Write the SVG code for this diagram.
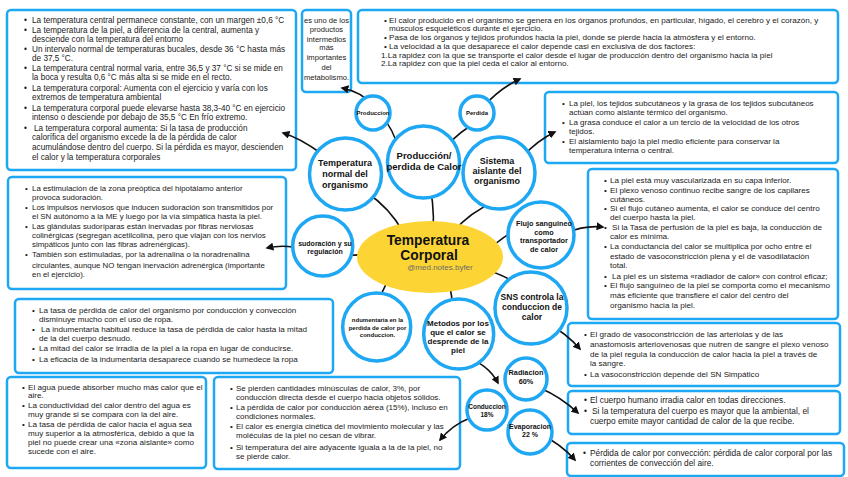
<svg xmlns="http://www.w3.org/2000/svg" width="848" height="477" viewBox="0 0 848 477">
<style>
.bg{fill:#ffffff}
.box{fill:#ffffff;stroke:#1ea7f3;stroke-width:2.5}
.cir{fill:#ffffff;stroke:#1ea7f3;stroke-width:3.5}
.t{font-family:"Liberation Sans",Arial,sans-serif;fill:#1a1a1a}
.n{font-family:"Liberation Sans",Arial,sans-serif;font-weight:bold;fill:#111;text-anchor:middle}
.c{fill:none;stroke:#111;stroke-width:1.6}
</style>
<defs>
<marker id="ah" viewBox="0 0 10 10" refX="8" refY="5" markerWidth="8" markerHeight="8" markerUnits="userSpaceOnUse" orient="auto"><path d="M0,0 L10,5 L0,10 z" fill="#111"/></marker>
</defs>
<rect class="bg" x="0" y="0" width="848" height="477"/>

<g id="box-temp-normal">
<rect class="box" x="7" y="10" width="289" height="160" rx="4"/>
<g class="t" font-size="8.2">
<text x="24" y="23">•</text><text x="32" y="23">La temperatura central permanece constante, con un margen ±0,6 °C</text>
<text x="24" y="33">•</text><text x="32" y="33">La temperatura de la piel, a diferencia de la central, aumenta y</text>
<text x="32" y="42">desciende con la temperatura del entorno</text>
<text x="24" y="51.5">•</text><text x="32" y="51.5">Un intervalo normal de temperaturas bucales, desde 36 °C hasta más</text>
<text x="32" y="60.5">de 37,5 °C.</text>
<text x="24" y="71">•</text><text x="32" y="71">La temperatura central normal varia, entre 36,5 y 37 °C si se mide en</text>
<text x="32" y="79.5">la boca y resulta 0,6 °C más alta si se mide en el recto.</text>
<text x="24" y="91">•</text><text x="32" y="91">La temperatura corporal: Aumenta con el ejercicio y varía con los</text>
<text x="32" y="99.5">extremos de temperatura ambiental</text>
<text x="24" y="111">•</text><text x="32" y="111">La temperatura corporal puede elevarse hasta 38,3-40 °C en ejercicio</text>
<text x="32" y="120">intenso o desciende por debajo de 35,5 °C En frío extremo.</text>
<text x="24" y="131">•</text><text x="34" y="131">La temperatura corporal aumenta: Si la tasa de producción</text>
<text x="32" y="140">calorífica del organismo excede la de la pérdida de calor</text>
<text x="32" y="150">acumulándose dentro del cuerpo. Si la pérdida es mayor, descienden</text>
<text x="32" y="160">el calor y la temperatura corporales</text>
</g>
</g>

<g id="box-metabolismo">
<rect class="box" x="302" y="10" width="49" height="82" rx="4"/>
<g class="t" font-size="7.6" text-anchor="middle">
<text x="326.5" y="23">es uno de los</text>
<text x="326.5" y="32">productos</text>
<text x="326.5" y="41.5">intermedios</text>
<text x="326.5" y="50">más</text>
<text x="326.5" y="60">importantes</text>
<text x="326.5" y="70">del</text>
<text x="326.5" y="80">metabolismo.</text>
</g>
</g>

<g id="box-calor">
<rect class="box" x="358" y="10" width="480" height="73" rx="4"/>
<g class="t" font-size="8.1">
<text x="384" y="22.5">•</text><text x="389" y="22.5">El calor producido en el organismo se genera en los órganos profundos, en particular, hígado, el cerebro y el corazón, y</text>
<text x="389" y="31">músculos esqueléticos durante el ejercicio.</text>
<text x="384" y="40">•</text><text x="389" y="40">Pasa de los órganos y tejidos profundos hacia la piel, donde se pierde hacia la atmósfera y el entorno.</text>
<text x="384" y="48.5">•</text><text x="389" y="48.5">La velocidad a la que desaparece el calor depende casi en exclusiva de dos factores:</text>
<text x="381" y="57.5">1.La rapidez con la que se transporte el calor desde el lugar de producción dentro del organismo hacia la piel</text>
<text x="381" y="66">2.La rapidez con que la piel ceda el calor al entorno.</text>
</g>
</g>

<g id="box-aislante">
<rect class="box" x="545" y="92" width="293" height="71" rx="4"/>
<g class="t" font-size="8">
<text x="562" y="105.5">•</text><text x="569" y="105.5">La piel, los tejidos subcutáneos y la grasa de los tejidos subcutáneos</text>
<text x="569" y="114.5">actúan como aislante térmico del organismo.</text>
<text x="562" y="124.5">•</text><text x="569" y="124.5">La grasa conduce el calor a un tercio de la velocidad de los otros</text>
<text x="569" y="134">tejidos.</text>
<text x="562" y="144">•</text><text x="569" y="144">El aislamiento bajo la piel medio eficiente para conservar la</text>
<text x="569" y="153">temperatura interna o central.</text>
</g>
</g>

<g id="box-flujo">
<rect class="box" x="588" y="169" width="250" height="150" rx="4"/>
<g class="t" font-size="8.1">
<text x="604" y="182.5">•</text><text x="610" y="182.5">La piel está muy vascularizada en su capa inferior.</text>
<text x="604" y="192.5">•</text><text x="610" y="192.5">El plexo venoso continuo recibe sangre de los capilares</text>
<text x="610" y="201.5">cutáneos.</text>
<text x="604" y="211">•</text><text x="610" y="211">Si el flujo cutáneo aumenta, el calor se conduce del centro</text>
<text x="610" y="220">del cuerpo hasta la piel.</text>
<text x="604" y="230">•</text><text x="612" y="230">Si la Tasa de perfusión de la piel es baja, la conducción de</text>
<text x="610" y="239">calor es mínima.</text>
<text x="604" y="249">•</text><text x="610" y="249">La conductancia del calor se multiplica por ocho entre el</text>
<text x="610" y="258.5">estado de vasoconstricción plena y el de vasodilatación</text>
<text x="610" y="267.5">total.</text>
<text x="604" y="279">•</text><text x="612" y="279">La piel es un sistema «radiador de calor» con control eficaz;</text>
<text x="604" y="288">•</text><text x="610" y="288">El flujo sanguíneo de la piel se comporta como el mecanismo</text>
<text x="610" y="297.5">más eficiente que transfiere el calor del centro del</text>
<text x="610" y="307.5">organismo hacia la piel.</text>
</g>
</g>

<g id="box-sudoracion">
<rect class="box" x="8" y="177" width="278" height="112" rx="4"/>
<g class="t" font-size="7.9">
<text x="25" y="190.5">•</text><text x="32" y="190.5">La estimulación de la zona preóptica del hipotálamo anterior</text>
<text x="32" y="199.5">provoca sudoración.</text>
<text x="25" y="209.5">•</text><text x="32" y="209.5">Los impulsos nerviosos que inducen sudoración son transmitidos por</text>
<text x="32" y="219">el SN autónomo a la ME y luego por la vía simpática hasta la piel.</text>
<text x="25" y="229">•</text><text x="32" y="229">Las glándulas sudoríparas están inervadas por fibras nerviosas</text>
<text x="32" y="238">colinérgicas (segregan acetilcolina, pero que viajan con los nervios</text>
<text x="32" y="247">simpáticos junto con las fibras adrenérgicas).</text>
<text x="25" y="257">•</text><text x="32" y="257">También son estimuladas, por la adrenalina o la noradrenalina</text>
<text x="32" y="268">circulantes, aunque NO tengan inervación adrenérgica (importante</text>
<text x="32" y="277">en el ejercicio).</text>
</g>
</g>

<g id="box-indumentaria">
<rect class="box" x="15" y="299" width="318" height="74" rx="4"/>
<g class="t" font-size="8.1">
<text x="32" y="312.5">•</text><text x="39" y="312.5">La tasa de pérdida de calor del organismo por conducción y convección</text>
<text x="39" y="321.5">disminuye mucho con el uso de ropa.</text>
<text x="32" y="332">•</text><text x="41" y="332">La indumentaria habitual reduce la tasa de pérdida de calor hasta la mitad</text>
<text x="39" y="341">de la del cuerpo desnudo.</text>
<text x="32" y="351">•</text><text x="39" y="351">La mitad del calor se irradia de la piel a la ropa en lugar de conducirse.</text>
<text x="32" y="361.5">•</text><text x="39" y="361.5">La eficacia de la indumentaria desaparece cuando se humedece la ropa</text>
</g>
</g>

<g id="box-sns">
<rect class="box" x="568" y="323" width="272" height="63" rx="4"/>
<g class="t" font-size="8.1">
<text x="584" y="336.5">•</text><text x="590" y="336.5">El grado de vasoconstricción de las arteriolas y de las</text>
<text x="590" y="346.5">anastomosis arteriovenosas que nutren de sangre el plexo venoso</text>
<text x="590" y="356.5">de la piel regula la conducción de calor hacia la piel a través de</text>
<text x="590" y="365.5">la sangre.</text>
<text x="584" y="376.5">•</text><text x="590" y="376.5">La vasoconstricción depende del SN Simpático</text>
</g>
</g>

<g id="box-radiacion">
<rect class="box" x="568" y="391" width="272" height="43" rx="4"/>
<g class="t" font-size="8.4">
<text x="584" y="402.5">•</text><text x="590" y="402.5">El cuerpo humano irradia calor en todas direcciones.</text>
<text x="584" y="414">•</text><text x="592" y="414">Si la temperatura del cuerpo es mayor que la ambiental, el</text>
<text x="590" y="423.5">cuerpo emite mayor cantidad de calor de la que recibe.</text>
</g>
</g>

<g id="box-evaporacion">
<rect class="box" x="567" y="443" width="277" height="33" rx="4"/>
<g class="t" font-size="8.3">
<text x="583" y="456">•</text><text x="590" y="456">Pérdida de calor por convección: pérdida de calor corporal por las</text>
<text x="590" y="466">corrientes de convección del aire.</text>
</g>
</g>

<g id="box-agua">
<rect class="box" x="7" y="377" width="199" height="91" rx="4"/>
<g class="t" font-size="8.1">
<text x="22" y="389.5">•</text><text x="28" y="389.5">El agua puede absorber mucho más calor que el</text>
<text x="28" y="398">aire.</text>
<text x="22" y="408">•</text><text x="28" y="408">La conductividad del calor dentro del agua es</text>
<text x="28" y="417">muy grande si se compara con la del aire.</text>
<text x="22" y="427">•</text><text x="28" y="427">La tasa de pérdida de calor hacia el agua sea</text>
<text x="28" y="435.5">muy superior a la atmosférica, debido a que la</text>
<text x="28" y="444.5">piel no puede crear una «zona aislante» como</text>
<text x="28" y="453.5">sucede con el aire.</text>
</g>
</g>

<g id="box-conduccion">
<rect class="box" x="214" y="377" width="246" height="92" rx="4"/>
<g class="t" font-size="8">
<text x="230" y="390.5">•</text><text x="236" y="390.5">Se pierden cantidades minúsculas de calor, 3%, por</text>
<text x="236" y="399.5">conducción directa desde el cuerpo hacia objetos sólidos.</text>
<text x="230" y="409.5">•</text><text x="236" y="409.5">La pérdida de calor por conducción aérea (15%), incluso en</text>
<text x="236" y="419">condiciones normales.</text>
<text x="230" y="429">•</text><text x="236" y="429">El calor es energía cinética del movimiento molecular y las</text>
<text x="236" y="438">moléculas de la piel no cesan de vibrar.</text>
<text x="230" y="449.5">•</text><text x="236" y="449.5">Si temperatura del aire adyacente iguala a la de la piel, no</text>
<text x="236" y="459">se pierde calor.</text>
</g>
</g>

<g id="connectors">
<path class="c" marker-end="url(#ah)" d="M322,154 Q300,138 283,133"/>
<path class="c" marker-end="url(#ah)" d="M372,105 Q362,92 342,88"/>
<path class="c" marker-end="url(#ah)" d="M398,148 Q393,128 383,119"/>
<path class="c" marker-end="url(#ah)" d="M448,145 Q460,131 476,123"/>
<path class="c" marker-end="url(#ah)" d="M483,107 Q500,88 520,79"/>
<path class="c" marker-end="url(#ah)" d="M522,157 Q538,140 555,132"/>
<path class="c" marker-end="url(#ah)" d="M403,232 Q390,208 366,192"/>
<path class="c" marker-end="url(#ah)" d="M433,232 Q435,200 427,177"/>
<path class="c" marker-end="url(#ah)" d="M453,232 Q470,212 496,201"/>
<path class="c" marker-end="url(#ah)" d="M395,258 Q370,253 343,256"/>
<path class="c" marker-end="url(#ah)" d="M293,247 Q280,245 267,248"/>
<path class="c" marker-end="url(#ah)" d="M486,253 Q500,238 518,229"/>
<path class="c" marker-end="url(#ah)" d="M566,233 Q585,225 603,227"/>
<path class="c" marker-end="url(#ah)" d="M478,268 Q502,273 520,286"/>
<path class="c" marker-end="url(#ah)" d="M393,273 Q380,290 377,313"/>
<path class="c" marker-end="url(#ah)" d="M447,275 Q453,295 453,318"/>
<path class="c" marker-end="url(#ah)" d="M547,323 Q566,333 580,349"/>
<path class="c" marker-end="url(#ah)" d="M465,357 Q488,364 498,383"/>
<path class="c" marker-end="url(#ah)" d="M540,388 Q561,397 578,413"/>
<path class="c" marker-end="url(#ah)" d="M540,434 Q561,444 575,460"/>
<path class="c" marker-end="url(#ah)" d="M470,418 Q452,425 440,440"/>
</g>

<g id="node-produccion-small">
<circle class="cir" cx="373" cy="113" r="17" stroke-width="2"/>
<text class="n" x="373" y="115" font-size="6">Produccion</text>
</g>
<g id="node-perdida-small">
<circle class="cir" cx="477" cy="113" r="17" stroke-width="2"/>
<text class="n" x="477" y="115" font-size="6">Perdida</text>
</g>
<g id="node-temp-normal">
<circle class="cir" cx="345.5" cy="174" r="36"/>
<text class="n" x="345" y="166" font-size="9">Temperatura</text>
<text class="n" x="345" y="177" font-size="9">normal del</text>
<text class="n" x="345" y="187.5" font-size="9">organismo</text>
</g>
<g id="node-produccion-perdida">
<circle class="cir" cx="423.5" cy="162" r="36"/>
<text class="n" x="424" y="158.5" font-size="9.5">Producción/</text>
<text class="n" x="424" y="169.5" font-size="9.5">perdida de Calor</text>
</g>
<g id="node-sistema-aislante">
<circle class="cir" cx="499" cy="173" r="36"/>
<text class="n" x="497" y="164" font-size="9">Sistema</text>
<text class="n" x="497" y="174" font-size="9">aislante del</text>
<text class="n" x="497" y="184" font-size="9">organismo</text>
</g>
<g id="node-sudoracion">
<circle class="cir" cx="322.7" cy="246" r="30"/>
<text class="n" x="325" y="245.5" font-size="7">sudoración y su</text>
<text class="n" x="325" y="253.5" font-size="7">regulación</text>
</g>
<g id="node-flujo">
<circle class="cir" cx="541" cy="235" r="33"/>
<text class="n" x="544" y="225.5" font-size="7.3">Flujo sanguineo</text>
<text class="n" x="544" y="234.5" font-size="7.3">como</text>
<text class="n" x="544" y="243" font-size="7.3">transportador</text>
<text class="n" x="544" y="252" font-size="7.3">de calor</text>
</g>
<g id="node-central">
<ellipse cx="430" cy="257" rx="73" ry="36" fill="#fcd535"/>
<text class="n" x="428" y="245" font-size="13.8">Temperatura</text>
<text class="n" x="429" y="260" font-size="13.8">Corporal</text>
<text x="440" y="269.5" font-family="Liberation Sans,Arial,sans-serif" font-size="8" fill="#6b6b6b" text-anchor="middle">@med.notes.byfer</text>
</g>
<g id="node-indumentaria">
<circle class="cir" cx="376.7" cy="327" r="34"/>
<text class="n" x="377.5" y="321.5" font-size="6">ndumentaria en la</text>
<text class="n" x="377.5" y="329.5" font-size="6">perdida de calor por</text>
<text class="n" x="377.5" y="336.5" font-size="6">conduccion.</text>
</g>
<g id="node-metodos">
<circle class="cir" cx="458.7" cy="334" r="35"/>
<text class="n" x="458" y="326" font-size="8">Metodos por los</text>
<text class="n" x="458" y="335" font-size="8">que el calor se</text>
<text class="n" x="458" y="344" font-size="8">desprende de la</text>
<text class="n" x="458" y="353" font-size="8">piel</text>
</g>
<g id="node-sns">
<circle class="cir" cx="531" cy="308" r="36"/>
<text class="n" x="532" y="299.5" font-size="8.5">SNS controla la</text>
<text class="n" x="532" y="309.5" font-size="8.5">conduccion de</text>
<text class="n" x="532" y="319.5" font-size="8.5">calor</text>
</g>
<g id="node-radiacion">
<circle class="cir" cx="526" cy="379" r="21" stroke-width="2.5"/>
<text class="n" x="526" y="375" font-size="7.3">Radiacion</text>
<text class="n" x="526" y="384" font-size="7.3">60%</text>
</g>
<g id="node-conduccion">
<circle class="cir" cx="487" cy="410" r="20" stroke-width="2.5"/>
<text class="n" x="487" y="408.5" font-size="6.5">Conduccion</text>
<text class="n" x="487" y="417" font-size="6.5">18%</text>
</g>
<g id="node-evaporacion">
<circle class="cir" cx="530" cy="432" r="22" stroke-width="2.5"/>
<text class="n" x="530" y="429" font-size="7">Evaporacion</text>
<text class="n" x="530" y="437" font-size="7">22 %</text>
</g>
</svg>
